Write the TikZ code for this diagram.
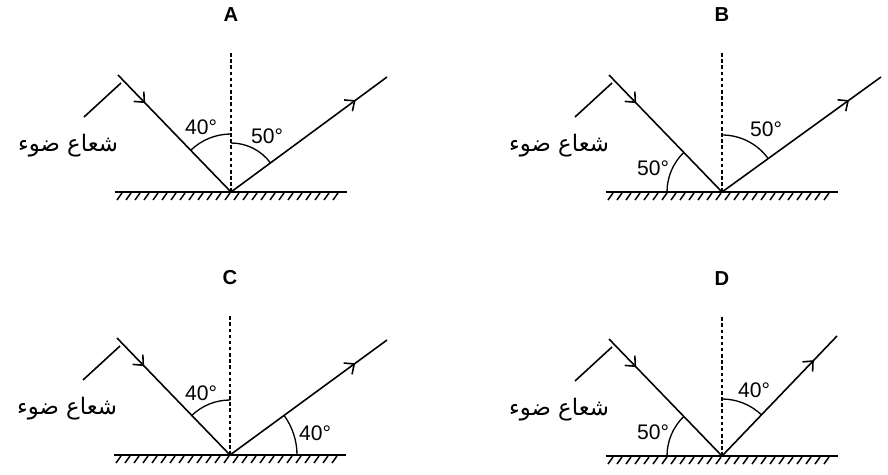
\documentclass[tikz,border=0pt]{standalone}
\usepackage{fontspec}
\setmainfont{Liberation Sans}
\newfontfamily\arabicfont[Script=Arabic]{DejaVu Sans}
\TeXXeTstate=1
\usetikzlibrary{arrows.meta,decorations.markings}
\tikzset{
  ray/.style={line width=0.9pt},
  inray/.style={ray, postaction={decorate}, decoration={markings,
    mark=at position 0.24 with {\arrow{Straight Barb[length=4.5pt,width=8pt]}}}},
  outray/.style={ray, postaction={decorate}, decoration={markings,
    mark=at position 0.8 with {\arrow{Straight Barb[length=4.5pt,width=8pt]}}}},
  normalline/.style={line width=1.6pt, dash pattern=on 2pt off 1.5pt},
  mirror/.style={line width=1.2pt},
  hatch/.style={line width=0.85pt},
  anglearc/.style={line width=0.75pt},
  deg/.style={font=\fontsize{12}{14}\selectfont},
  title/.style={font=\fontsize{11.5}{13}\selectfont\bfseries},
  artext/.style={font=\fontsize{13}{15}\selectfont\arabicfont}
}
\begin{document}
\begin{tikzpicture}[x=0.02cm,y=0.02cm]
\useasboundingbox (0,0) rectangle (888,474);
% the four panels: hit point, letter, end of reflected ray
\foreach \ox/\oy/\lab/\rx/\ry in {231/282/A/156/115, 722/282/B/159/115, 230/19/C/157/115, 722/18/D/115/120}{
  \coordinate (O\lab) at (\ox,\oy);
  \coordinate (I\lab) at (\ox-113,\oy+117);
  \coordinate (R\lab) at (\ox+\rx,\oy+\ry);
  \coordinate (N\lab) at (\ox,\oy+140);
  \coordinate (ML\lab) at (\ox-116,\oy);
  \coordinate (MR\lab) at (\ox+116,\oy);
  \coordinate (La\lab) at (\ox-147,\oy+75);
  \coordinate (Lb\lab) at (\ox-110,\oy+109);
  \draw[normalline] (O\lab) -- (N\lab);
  \draw[mirror] (ML\lab) -- (MR\lab);
  \foreach \h in {-114,-105,...,110}
    \draw[hatch] (\ox+\h,\oy-8) -- ++(5,7);
  \draw[inray] (I\lab) -- (O\lab);
  \draw[outray] (O\lab) -- (R\lab);
  \draw[ray] (La\lab) -- (Lb\lab);
  \node[artext] (ray\lab) at (\ox-163,\oy+46) {\beginR شعاع ضوء\endR};
  \node[title] (title\lab) at (\ox,\oy+177) {\lab};
}
% A
\draw[anglearc] (OA) ++(90:58) arc (90:134:58);
\draw[anglearc] (OA) ++(36:49) arc (36:90:49);
\node[deg] (aA1) at (201,347) {40°};
\node[deg] (aA2) at (267,338) {50°};
% B
\draw[anglearc] (OB) ++(134:55) arc (134:180:55);
\draw[anglearc] (OB) ++(36:57) arc (36:90:57);
\node[deg] (aB1) at (653,306) {50°};
\node[deg] (aB2) at (766,345) {50°};
% C
\draw[anglearc] (OC) ++(90:55) arc (90:134:55);
\draw[anglearc] (OC) ++(0:67) arc (0:36:67);
\node[deg] (aC1) at (201,81) {40°};
\node[deg] (aC2) at (315,41) {40°};
% D
\draw[anglearc] (OD) ++(134:55) arc (134:180:55);
\draw[anglearc] (OD) ++(46:57) arc (46:90:57);
\node[deg] (aD1) at (653,42) {50°};
\node[deg] (aD2) at (754,84) {40°};
\end{tikzpicture}
\end{document}
